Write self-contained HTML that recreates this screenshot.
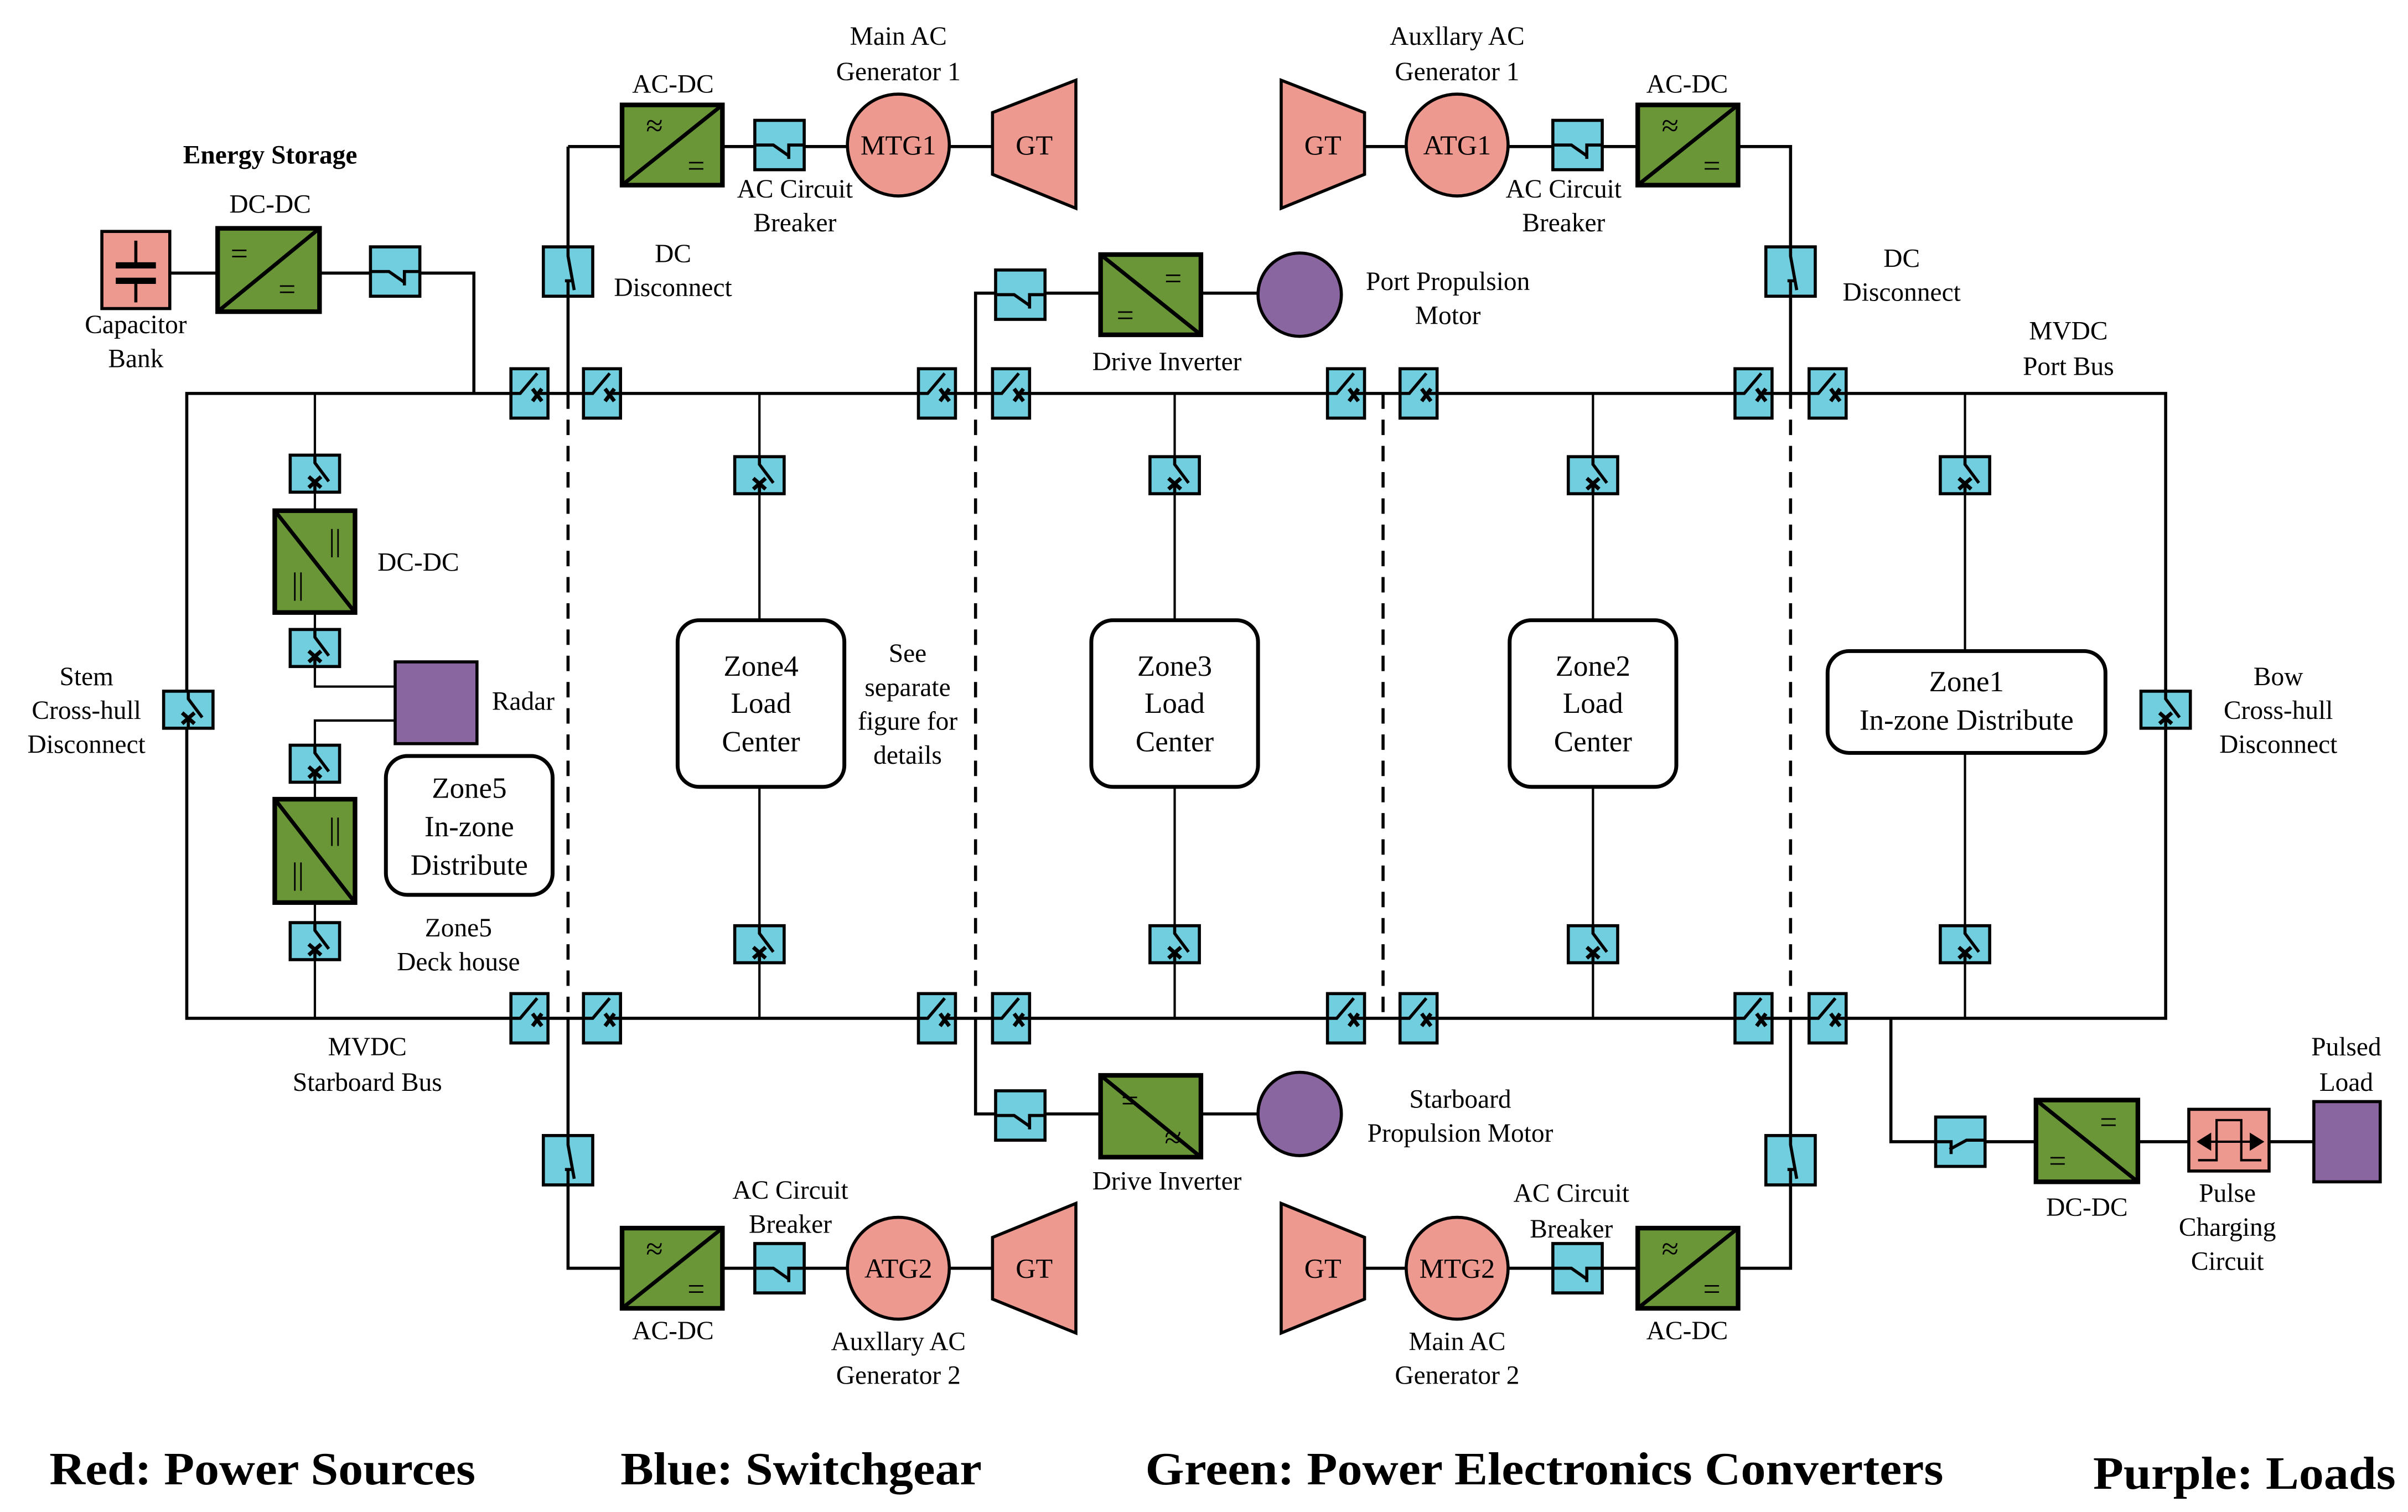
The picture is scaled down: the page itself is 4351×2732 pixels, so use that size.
<!DOCTYPE html>
<html><head><meta charset="utf-8">
<style>
html,body{margin:0;padding:0;background:#fff;}
svg{display:block;}
text{font-family:"Liberation Serif",serif;fill:#000;}
</style></head>
<body>
<svg width="4351" height="2732" viewBox="0 0 1560 980" preserveAspectRatio="none" xmlns="http://www.w3.org/2000/svg">
<defs>
  <g id="hb">
    <rect x="-12" y="-16" width="24" height="32" fill="#70CEDF" stroke="#000" stroke-width="2"/>
    <path d="M-12,0 H-6 L5,-13 M4,0 H12" stroke="#000" stroke-width="2" fill="none"/>
    <path d="M2,-3 L8,5 M8,-3 L2,5" stroke="#000" stroke-width="2.5"/>
  </g>
  <g id="vb">
    <rect x="-16" y="-12" width="32" height="24" fill="#70CEDF" stroke="#000" stroke-width="2"/>
    <path d="M0,-12 V-7 L9,5 M0,6 V12" stroke="#000" stroke-width="2" fill="none"/>
    <path d="M-4,2 L4,9 M4,2 L-4,9" stroke="#000" stroke-width="2.5"/>
  </g>
  <g id="dd">
    <rect x="-16" y="-16" width="32" height="32" fill="#70CEDF" stroke="#000" stroke-width="2"/>
    <path d="M0,-16 V-10 L4,12 M-2,6 H2 M0,6 V16" stroke="#000" stroke-width="2" fill="none"/>
  </g>
  <g id="hs">
    <rect x="-16" y="-16" width="32" height="32" fill="#70CEDF" stroke="#000" stroke-width="2"/>
    <path d="M-16,0 H-4 L6,7 M6,9 V0 H16" stroke="#000" stroke-width="2" fill="none"/>
  </g>
  <g id="hsr">
    <rect x="-16" y="-16" width="32" height="32" fill="#70CEDF" stroke="#000" stroke-width="2"/>
    <path d="M-16,0 H-6 V8 M-7,5 L4,-1 H16" stroke="#000" stroke-width="2" fill="none"/>
  </g>
</defs>

<g stroke="#000" stroke-width="2" fill="none">
  <!-- buses -->
  <path d="M121,255 H1403 V660 H121 Z"/>
  <!-- generator feeders -->
  <path d="M368,95 V255 M368,660 V822 H403"/>
  <path d="M368,95 H403"/>
  <path d="M1126,95 H1160 V255 M1160,660 V822 H1126"/>
  <path d="M468,95 H643 M884,95 H1061 M468,822 H643 M884,822 H1061"/>
  <!-- dashed zone boundaries -->
  <path d="M368,255 V660 M632,255 V660 M896,255 V660 M1160,255 V660" stroke-dasharray="10,7"/>
  <!-- propulsion -->
  <path d="M632,255 V190 H713 M778,190 H815 M632,660 V722 H713 M778,722 H815"/>
  <!-- energy storage -->
  <path d="M110,177 H141 M207,177 H307 V255"/>
  <!-- zone vertical feeders -->
  <path d="M492,255 V402 M492,510 V660 M761,255 V402 M761,510 V660 M1032,255 V402 M1032,510 V660 M1273,255 V422 M1273,488 V660" stroke-width="1.5"/>
  <!-- zone5 -->
  <path d="M204,255 V331 M204,397 V445 H256 M256,467 H204 V518 M204,585 V660" stroke-width="1.5"/>
  <!-- pulse load -->
  <path d="M1225,660 V740 H1319 M1385,740 H1499"/>
</g>

<!-- bus breakers -->
<g>
  <use href="#hb" x="343" y="255"/><use href="#hb" x="390" y="255"/>
  <use href="#hb" x="607" y="255"/><use href="#hb" x="655" y="255"/>
  <use href="#hb" x="872" y="255"/><use href="#hb" x="919" y="255"/>
  <use href="#hb" x="1136" y="255"/><use href="#hb" x="1184" y="255"/>
  <use href="#hb" x="343" y="660"/><use href="#hb" x="390" y="660"/>
  <use href="#hb" x="607" y="660"/><use href="#hb" x="655" y="660"/>
  <use href="#hb" x="872" y="660"/><use href="#hb" x="919" y="660"/>
  <use href="#hb" x="1136" y="660"/><use href="#hb" x="1184" y="660"/>
  <!-- branch breakers -->
  <use href="#vb" x="492" y="308"/><use href="#vb" x="492" y="612"/>
  <use href="#vb" x="761" y="308"/><use href="#vb" x="761" y="612"/>
  <use href="#vb" x="1032" y="308"/><use href="#vb" x="1032" y="612"/>
  <use href="#vb" x="1273" y="308"/><use href="#vb" x="1273" y="612"/>
  <use href="#vb" x="204" y="307"/><use href="#vb" x="204" y="420"/>
  <use href="#vb" x="204" y="495"/><use href="#vb" x="204" y="610"/>
  <use href="#vb" x="122" y="460"/><use href="#vb" x="1403" y="460"/>
  <!-- DC disconnects -->
  <use href="#dd" x="368" y="176"/><use href="#dd" x="1160" y="176"/>
  <use href="#dd" x="368" y="752"/><use href="#dd" x="1160" y="752"/>
  <!-- switches -->
  <use href="#hs" x="505" y="94"/><use href="#hs" x="1022" y="94"/>
  <use href="#hs" x="505" y="822"/><use href="#hs" x="1022" y="822"/>
  <use href="#hs" x="256" y="176"/>
  <use href="#hs" x="661" y="191"/><use href="#hs" x="661" y="723"/>
  <use href="#hsr" x="1270" y="740"/>
</g>

<!-- converters -->
<g stroke="#000" stroke-width="3" fill="#6A9638">
  <rect x="403" y="68" width="65" height="52"/>
  <rect x="1061" y="68" width="65" height="52"/>
  <rect x="403" y="796" width="65" height="52"/>
  <rect x="1061" y="796" width="65" height="52"/>
  <rect x="141" y="148" width="66" height="54"/>
  <rect x="713" y="165" width="65" height="52"/>
  <rect x="713" y="697" width="65" height="53"/>
  <rect x="178" y="331" width="52" height="66"/>
  <rect x="178" y="518" width="52" height="67"/>
  <rect x="1319" y="713" width="66" height="53"/>
</g>
<g stroke="#000" stroke-width="2.5" fill="none">
  <path d="M403,120 L468,68 M1061,120 L1126,68 M403,848 L468,796 M1061,848 L1126,796"/>
  <path d="M141,202 L207,148"/>
  <path d="M713,165 L778,217 M713,697 L778,750 M1319,713 L1385,766"/>
  <path d="M178,331 L230,397 M178,518 L230,585"/>
</g>
<g font-size="20" text-anchor="middle">
  <text x="424" y="88">≈</text><text x="451" y="114">=</text>
  <text x="1082" y="88">≈</text><text x="1109" y="114">=</text>
  <text x="424" y="816">≈</text><text x="451" y="842">=</text>
  <text x="1082" y="816">≈</text><text x="1109" y="842">=</text>
  <text x="155" y="171">=</text><text x="186" y="194">=</text>
  <text x="760" y="187">=</text><text x="729" y="211">=</text>
  <text x="732" y="720">=</text><text x="760" y="744">≈</text>
  <text x="1366" y="734">=</text><text x="1333" y="759">=</text>
  <text x="217" y="357">||</text><text x="193" y="385">||</text>
  <text x="217" y="544">||</text><text x="193" y="573">||</text>
</g>

<!-- power sources -->
<g stroke="#000" stroke-width="2" fill="#EE998F">
  <ellipse cx="582" cy="94" rx="33" ry="33"/>
  <ellipse cx="944" cy="94" rx="33" ry="33"/>
  <ellipse cx="582" cy="822" rx="33" ry="33"/>
  <ellipse cx="944" cy="822" rx="33" ry="33"/>
  <path d="M643,73 L697,52 V135 L643,113 Z"/>
  <path d="M830,52 L884,73 V113 L830,135 Z"/>
  <path d="M643,802 L697,780 V864 L643,842 Z"/>
  <path d="M830,780 L884,802 V842 L830,864 Z"/>
  <rect x="66" y="150" width="44" height="50"/>
  <rect x="1418" y="719" width="52" height="40"/>
</g>
<g stroke="#000" fill="none">
  <path d="M88,156 V172 M88,182 V196" stroke-width="2"/>
  <path d="M75,172 H101 M75,182 H101" stroke-width="4"/>
  <path d="M1424,752 H1436 V726 H1452 V752 H1465 M1430,740 H1460" stroke-width="1.5"/>
  <path d="M1424,740 L1432,735 V745 Z M1466,740 L1458,735 V745 Z" fill="#000" stroke-width="1"/>
</g>

<!-- loads -->
<g stroke="#000" stroke-width="2" fill="#8966A0">
  <circle cx="842" cy="191" r="27"/>
  <circle cx="842" cy="722" r="27"/>
  <rect x="256" y="429" width="53" height="53"/>
  <rect x="1499" y="714" width="43" height="52"/>
</g>

<!-- zone boxes -->
<g stroke="#000" stroke-width="2.5" fill="#fff">
  <rect x="439" y="402" width="108" height="108" rx="14"/>
  <rect x="707" y="402" width="108" height="108" rx="14"/>
  <rect x="978" y="402" width="108" height="108" rx="14"/>
  <rect x="1184" y="422" width="180" height="66" rx="14"/>
  <rect x="250" y="490" width="108" height="90" rx="14"/>
</g>

<!-- labels -->
<g font-size="17" text-anchor="middle">
  <text x="582" y="29">Main AC</text><text x="582" y="52">Generator 1</text>
  <text x="436" y="60">AC-DC</text>
  <text x="515" y="128">AC  Circuit</text><text x="515" y="150">Breaker</text>
  <text x="436" y="170">DC</text><text x="436" y="192">Disconnect</text>
  <text x="944" y="29">Auxllary AC</text><text x="944" y="52">Generator 1</text>
  <text x="1093" y="60">AC-DC</text>
  <text x="1013" y="128">AC  Circuit</text><text x="1013" y="150">Breaker</text>
  <text x="1232" y="173">DC</text><text x="1232" y="195">Disconnect</text>
  <text x="175" y="138">DC-DC</text>
  <text x="175" y="106" font-weight="bold">Energy Storage</text>
  <text x="88" y="216">Capacitor</text><text x="88" y="238">Bank</text>
  <text x="938" y="188">Port  Propulsion</text><text x="938" y="210">Motor</text>
  <text x="756" y="240">Drive  Inverter</text>
  <text x="1340" y="220">MVDC</text><text x="1340" y="243">Port   Bus</text>
  <text x="271" y="370">DC-DC</text>
  <text x="339" y="460">Radar</text>
  <text x="56" y="444">Stem</text><text x="56" y="466">Cross-hull</text><text x="56" y="488">Disconnect</text>
  <text x="1476" y="444">Bow</text><text x="1476" y="466">Cross-hull</text><text x="1476" y="488">Disconnect</text>
  <text x="588" y="429">See</text><text x="588" y="451">separate</text><text x="588" y="473">figure for</text><text x="588" y="495">details</text>
  <text x="297" y="607">Zone5</text><text x="297" y="629">Deck house</text>
  <text x="238" y="684">MVDC</text><text x="238" y="707">Starboard   Bus</text>
  <text x="946" y="718">Starboard</text><text x="946" y="740">Propulsion Motor</text>
  <text x="756" y="771">Drive   Inverter</text>
  <text x="512" y="777">AC  Circuit</text><text x="512" y="799">Breaker</text>
  <text x="1018" y="779">AC  Circuit</text><text x="1018" y="802">Breaker</text>
  <text x="436" y="868">AC-DC</text><text x="1093" y="868">AC-DC</text>
  <text x="582" y="875">Auxllary AC</text><text x="582" y="897">Generator 2</text>
  <text x="944" y="875">Main AC</text><text x="944" y="897">Generator 2</text>
  <text x="1352" y="788">DC-DC</text>
  <text x="1443" y="779">Pulse</text><text x="1443" y="801">Charging</text><text x="1443" y="823">Circuit</text>
  <text x="1520" y="684">Pulsed</text><text x="1520" y="707">Load</text>
</g>
<g font-size="18" text-anchor="middle">
  <text x="582" y="100">MTG1</text><text x="670" y="100">GT</text>
  <text x="944" y="100">ATG1</text><text x="857" y="100">GT</text>
  <text x="582" y="828">ATG2</text><text x="670" y="828">GT</text>
  <text x="944" y="828">MTG2</text><text x="857" y="828">GT</text>
</g>
<g font-size="19" text-anchor="middle">
  <text x="493" y="438">Zone4</text><text x="493" y="462">Load</text><text x="493" y="487">Center</text>
  <text x="761" y="438">Zone3</text><text x="761" y="462">Load</text><text x="761" y="487">Center</text>
  <text x="1032" y="438">Zone2</text><text x="1032" y="462">Load</text><text x="1032" y="487">Center</text>
  <text x="1274" y="448">Zone1</text><text x="1274" y="473">In-zone Distribute</text>
  <text x="304" y="517">Zone5</text><text x="304" y="542">In-zone</text><text x="304" y="567">Distribute</text>
</g>

<!-- legend -->
<g font-size="30" font-weight="bold">
  <text x="32" y="962" textLength="276" lengthAdjust="spacingAndGlyphs">Red: Power Sources</text>
  <text x="402" y="962" textLength="234" lengthAdjust="spacingAndGlyphs">Blue: Switchgear</text>
  <text x="742" y="962" textLength="517" lengthAdjust="spacingAndGlyphs">Green: Power Electronics Converters</text>
  <text x="1356" y="965" textLength="196" lengthAdjust="spacingAndGlyphs">Purple: Loads</text>
</g>
</svg>
</body></html>
